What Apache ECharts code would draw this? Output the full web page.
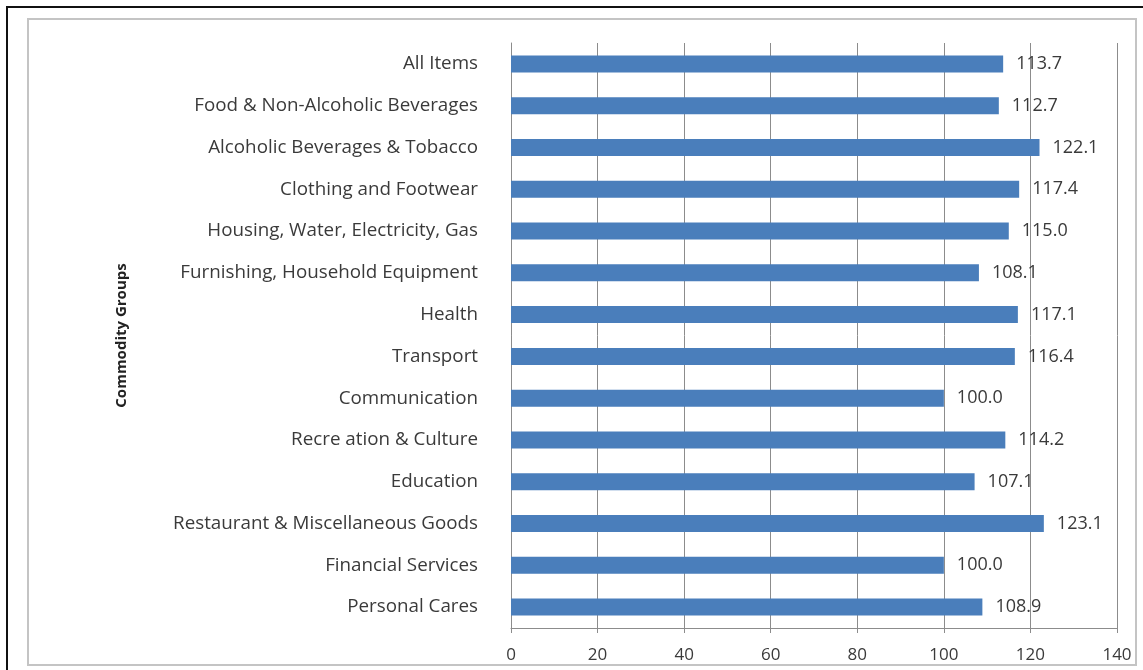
<!DOCTYPE html>
<html>
<head>
<meta charset="utf-8">
<script src="https://cdn.jsdelivr.net/npm/echarts@6/dist/echarts.min.js"></script>
<style>
  html, body { margin: 0; padding: 0; background: #fff; }
  #chart { width: 1143px; height: 670px; }
</style>
</head>
<body>
<div id="chart"></div>
<script>
// 商品组
var groups = [
    'All Items',
    'Food & Non-Alcoholic Beverages',
    'Alcoholic Beverages & Tobacco',
    'Clothing and Footwear',
    'Housing, Water, Electricity, Gas',
    'Furnishing, Household Equipment',
    'Health',
    'Transport',
    'Communication',
    'Recre ation & Culture',
    'Education',
    'Restaurant & Miscellaneous Goods',
    'Financial Services',
    'Personal Cares'
];
// 指数
var indexValues = [113.7, 112.7, 122.1, 117.4, 115.0, 108.1, 117.1, 116.4, 100.0, 114.2, 107.1, 123.1, 100.0, 108.9];
var xTicks = [0, 140, 20]; // min, max, interval

var myChart = echarts.init(document.getElementById('chart'));
var textColor = '#3a3a3a';
var lineColor = '#8c8c8c';

var option = {
    animation: false,
    textStyle: {fontFamily: 'Open Sans'},
    graphic: [
        {
            type: 'rect',
            shape: {x: 7, y: 7, width: 1160, height: 700},
            style: {fill: 'none', stroke: '#111', lineWidth: 2},
            z: 0
        },
        {
            type: 'rect',
            shape: {x: 28, y: 19, width: 1108, height: 646},
            style: {fill: 'none', stroke: '#c4c4c4', lineWidth: 2},
            z: 0
        }
    ],
    grid: {
        left: 511,
        right: 26,
        top: 43,
        bottom: 42
    },
    xAxis: {
        type: 'value',
        min: xTicks[0],
        max: xTicks[1],
        interval: xTicks[2],
        axisLine: {show: true, lineStyle: {color: lineColor}},
        axisTick: {show: true, length: 5, lineStyle: {color: lineColor}},
        axisLabel: {
            color: textColor,
            fontSize: 17,
            margin: 19
        },
        splitLine: {show: true, lineStyle: {color: lineColor, width: 1}}
    },
    yAxis: {
        type: 'category',
        data: groups,
        inverse: true,
        name: 'Commodity Groups',
        nameLocation: 'middle',
        nameRotate: 90,
        nameGap: 382,
        nameTextStyle: {
            color: '#222',
            fontSize: 15,
            fontWeight: 'bold'
        },
        axisLine: {show: true, lineStyle: {color: lineColor}},
        axisTick: {show: false},
        axisLabel: {
            color: textColor,
            fontSize: 18.8,
            margin: 33
        }
    },
    series: [
        {
            type: 'bar',
            data: indexValues,
            barWidth: 17,
            itemStyle: {color: '#4a7ebb'},
            label: {
                show: true,
                position: 'right',
                distance: 13,
                color: textColor,
                fontSize: 18,
                formatter: function (params) {
                    return params.value.toFixed(1);
                }
            }
        }
    ]
};
myChart.setOption(option);
</script>
</body>
</html>
